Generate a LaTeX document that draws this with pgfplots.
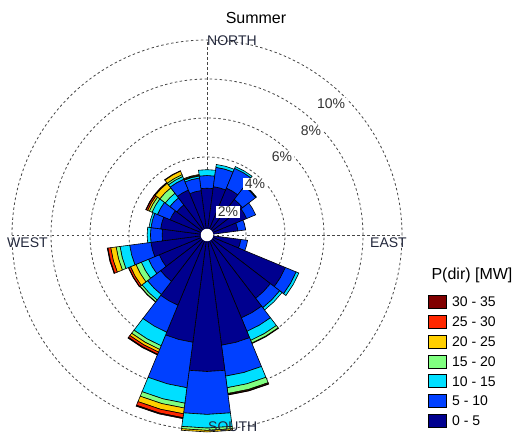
\documentclass[border=0pt]{standalone}
\usepackage{pgfplots}
\pgfplotsset{compat=1.18}
\usepackage{pgfplotstable}
\usepackage{fontspec}
\setmainfont{Liberation Sans}

\definecolor{c1}{RGB}{0,0,143}
\definecolor{c2}{RGB}{0,64,255}
\definecolor{c3}{RGB}{0,223,255}
\definecolor{c4}{RGB}{128,255,128}
\definecolor{c5}{RGB}{255,207,0}
\definecolor{c6}{RGB}{255,40,0}
\definecolor{c7}{RGB}{128,0,0}
\definecolor{gridgray}{RGB}{70,70,70}
\definecolor{cardtxt}{RGB}{35,40,60}

% frequency (%) per direction sector (15 deg wide) and speed bin
\pgfplotstableread{
dir b1 b2 b3 b4 b5 b6 b7
0   2.4 0.65 0.3 0 0 0 0
15  2.5 1.0 0.15 0 0 0 0
30  2.6 1.1 0.1 0 0 0 0
45  2.3 0.85 0.05 0 0 0 0
60  2.2 0.5 0 0 0 0 0
75  1.6 0.4 0 0 0 0 0
90  0.3 0 0 0 0 0 0
105 1.75 0.35 0 0 0 0 0
120 4.35 0.6 0.15 0 0 0 0
135 4.1 0.6 0.15 0 0 0 0
150 4.6 0.75 0.5 0.15 0.03 0 0
165 5.7 1.6 0.6 0.3 0.05 0.03 0
180 7.0 2.2 0.7 0.12 0.08 0 0
195 5.55 2.35 0.8 0.25 0.3 0.2 0.05
210 3.9 1.5 0.75 0.2 0.15 0.12 0.04
225 3.0 0.85 0.35 0.12 0.02 0 0
240 2.65 0.6 0.4 0.3 0.3 0.1 0.02
255 2.9 1.1 0.5 0.2 0.28 0.15 0.03
270 2.3 0.6 0.17 0 0 0 0
285 2.4 0.5 0.1 0 0 0 0
300 2.05 0.7 0.3 0.15 0.1 0.08 0.02
315 1.95 0.45 0.3 0.35 0.3 0.05 0
330 2.5 0.6 0.15 0.1 0.2 0.02 0
345 2.3 0.65 0.1 0.03 0.05 0 0
}\rose

\tikzset{gridline/.style={gridgray, dash pattern=on 2.5bp off 2.5bp, line width=0.8bp}}

\begin{document}
\begin{tikzpicture}[font=\fontsize{14bp}{16bp}\selectfont]
\path[use as bounding box] (-207bp,-199bp) rectangle (312bp,235bp);
\begin{axis}[
    x=19.5bp, y=19.5bp,
    at={(0,0)}, anchor=origin,
    xmin=-10.7, xmax=10.7, ymin=-10.7, ymax=10.7,
    hide axis, clip=false,
]
% grid
\draw[gridline] (axis cs:0,0) circle[radius=2];
\draw[gridline] (axis cs:0,0) circle[radius=4];
\draw[gridline] (axis cs:0,0) circle[radius=6];
\draw[gridline] (axis cs:0,0) circle[radius=8];
\draw[gridline] (axis cs:0,0) circle[radius=10];
\draw[gridline] (axis cs:-10,0) -- (axis cs:10,0);
\draw[gridline] (axis cs:0,-10) -- (axis cs:0,10);

% stacked wedges
\pgfplotstablegetrowsof{\rose}
\pgfmathtruncatemacro\lastrow{\pgfplotsretval-1}
\foreach \i in {0,...,\lastrow}{
  \pgfplotstablegetelem{\i}{dir}\of\rose
  \pgfmathsetmacro\dd{\pgfplotsretval}
  \xdef\rin{0}
  \foreach \k in {1,...,7}{
    \pgfplotstablegetelem{\i}{b\k}\of\rose
    \pgfmathsetmacro\bv{\pgfplotsretval}
    \pgfmathsetmacro\rout{\rin+\bv}
    \pgfmathtruncatemacro\show{\bv>0 ? 1 : 0}
    \ifnum\show=1
      \pgfmathsetmacro\xa{\rin*sin(\dd-7.5)}\pgfmathsetmacro\ya{\rin*cos(\dd-7.5)}
      \pgfmathsetmacro\xb{\rout*sin(\dd-7.5)}\pgfmathsetmacro\yb{\rout*cos(\dd-7.5)}
      \pgfmathsetmacro\xm{\rout*sin(\dd)}\pgfmathsetmacro\ym{\rout*cos(\dd)}
      \pgfmathsetmacro\xc{\rout*sin(\dd+7.5)}\pgfmathsetmacro\yc{\rout*cos(\dd+7.5)}
      \pgfmathsetmacro\xd{\rin*sin(\dd+7.5)}\pgfmathsetmacro\yd{\rin*cos(\dd+7.5)}
      \pgfmathsetmacro\xn{\rin*sin(\dd)}\pgfmathsetmacro\yn{\rin*cos(\dd)}
      \edef\seg{\noexpand\addplot[draw=black, line width=0.6bp, fill=c\k, mark=none]
        coordinates {(\xa,\ya) (\xb,\yb) (\xm,\ym) (\xc,\yc) (\xd,\yd) (\xn,\yn) (\xa,\ya)};}
      \seg
    \fi
    \xdef\rin{\rout}
  }
}

% centre hole
\fill[white] (axis cs:0,0) circle[radius=0.32];

% percentage labels
\node[fill=white, inner sep=1.5bp, text=black!80] at (axis cs:1.08,1.18) {2\%};
\node[fill=white, inner sep=1.5bp, text=black!80] at (axis cs:2.46,2.62) {4\%};
\node[fill=white, inner sep=1.5bp, text=black!80] at (axis cs:3.85,4.0) {6\%};
\node[fill=white, inner sep=1.5bp, text=black!80] at (axis cs:5.33,5.33) {8\%};
\node[fill=white, inner sep=1.5bp, text=black!80] at (axis cs:6.36,6.72) {10\%};
\end{axis}

% cardinal labels
\node[anchor=west, inner sep=0, text=cardtxt] at (0bp,194bp) {NORTH};
\node[anchor=west, inner sep=0, text=cardtxt] at (163bp,-8bp) {EAST};
\node[anchor=west, inner sep=0, text=cardtxt] at (-200bp,-8bp) {WEST};
\node[anchor=west, inner sep=0, text=cardtxt] at (1bp,-192bp) {SOUTH};

% title
\node[font=\fontsize{16bp}{18bp}\selectfont] at (49bp,217bp) {Summer};

% legend
\node[font=\fontsize{16bp}{18bp}\selectfont] at (265bp,-40bp) {P(dir) [MW]};
\foreach \k/\lab [count=\n from 0] in {7/30 - 35,6/25 - 30,5/20 - 25,4/15 - 20,3/10 - 15,2/5 - 10,1/0 - 5}{
  \pgfmathsetmacro\yy{-67-19.8*\n}
  \draw[black, line width=0.6bp, fill=c\k] (221bp,\yy bp-6.5bp) rectangle (239bp,\yy bp+6.5bp);
  \node[anchor=west, inner sep=0] at (245bp,\yy bp) {\lab};
}
\end{tikzpicture}
\end{document}
